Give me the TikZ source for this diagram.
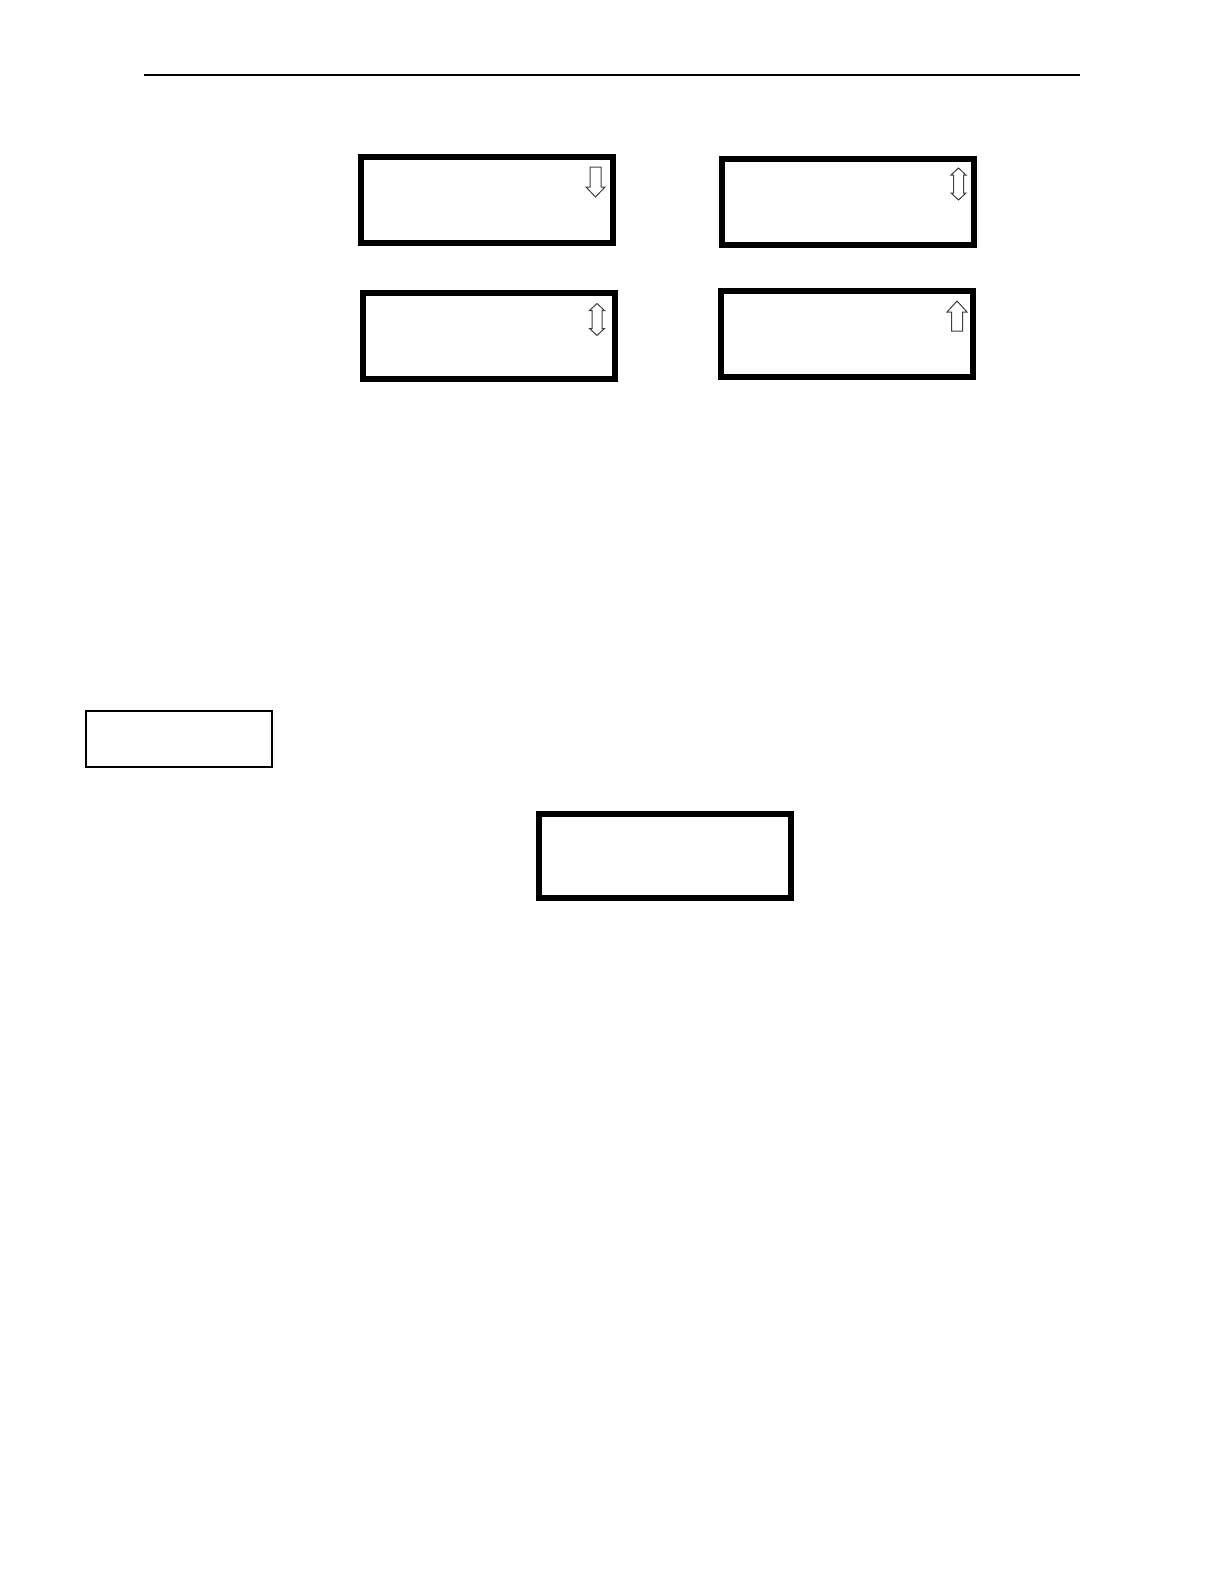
\documentclass[tikz,border=0pt]{standalone}
\begin{document}
\begin{tikzpicture}[x=0.5bp,y=-0.5bp,line join=miter,
	lcd/.style={draw,line width=3bp,minimum width=126bp,minimum height=43bp,inner sep=0pt},
	keybox/.style={draw,line width=1bp,minimum width=93bp,minimum height=28bp,inner sep=0pt},
	scrl/.style={draw=black!75,line width=0.5bp,fill=white},
	dnarrow/.pic={\draw[scrl] (-5.5,0)--(5.5,0)--(5.5,20)--(9.5,20)--(0,30)--(-9.5,20)--(-5.5,20)--cycle;},
	uparrow/.pic={\draw[scrl] (0,0)--(10,11)--(5.5,11)--(5.5,30)--(-5.5,30)--(-5.5,11)--(-10,11)--cycle;},
	udarrow/.pic={\draw[scrl] (0,0)--(7.5,7)--(5,7)--(5,25)--(7.5,25)--(0,32)--(-7.5,25)--(-5,25)--(-5,7)--(-7.5,7)--cycle;}]
	\useasboundingbox (0,0) rectangle (1224,1584);
	% header rule
	\coordinate (hl) at (144,75);
	\coordinate (hr) at (1080,75);
	\draw[line width=0.75bp] (hl)--(hr);
	% display screens
	\node[lcd] (s1) at (487,200) {};
	\node[lcd] (s2) at (847.5,202) {};
	\node[lcd] (s3) at (488.5,336) {};
	\node[lcd] (s4) at (847,333.5) {};
	\node[keybox] (k1) at (179,739) {};
	\node[lcd,minimum height=42bp] (s5) at (664.5,855.5) {};
	% scroll arrows
	\pic at (595.5,167) {dnarrow};
	\pic at (958.5,168) {udarrow};
	\pic at (597,303.5) {udarrow};
	\pic at (957,301) {uparrow};
\end{tikzpicture}
\end{document}
